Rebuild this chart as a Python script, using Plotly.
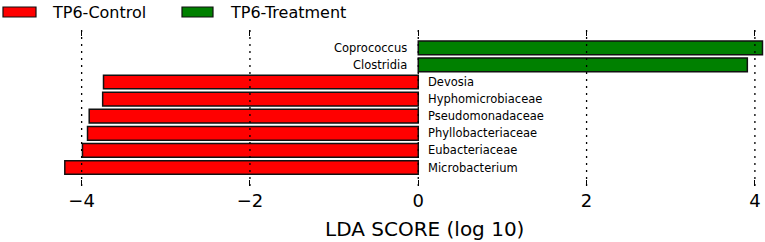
import plotly.graph_objects as go

# ---- data ----
control_names = ["Microbacterium", "Eubacteriaceae", "Phyllobacteriaceae",
                 "Pseudomonadaceae", "Hyphomicrobiaceae", "Devosia"]
control_lda = [-4.20, -3.99, -3.93, -3.91, -3.75, -3.74]
treatment_names = ["Clostridia", "Coprococcus"]
treatment_lda = [3.91, 4.09]
category_order = control_names + treatment_names
tick_values = [-4, -2, 0, 2, 4]
legend_names = ["TP6-Control", "TP6-Treatment"]
colors = ["#FF0000", "#008000"]

W, H = 765, 242
ML, MR, MT, MB = 0, 0, 30, 56
PW, PH = W - ML - MR, H - MT - MB

def px(x):
    return (x - ML) / PW

def py(y):
    return (H - MB - y) / PH

fig = go.Figure()
fig.add_trace(go.Bar(y=control_names, x=control_lda, orientation="h",
                     name=legend_names[0], width=0.8,
                     marker=dict(color=colors[0], line=dict(color="#111", width=1.5)),
                     showlegend=False))
fig.add_trace(go.Bar(y=treatment_names, x=treatment_lda, orientation="h",
                     name=legend_names[1], width=0.8,
                     marker=dict(color=colors[1], line=dict(color="#111", width=1.5)),
                     showlegend=False))
# invisible trace for the top tick axis
fig.add_trace(go.Scatter(x=[tick_values[0], tick_values[-1]], y=[None, None],
                         xaxis="x2", yaxis="y", showlegend=False, hoverinfo="skip"))

xr = [-4.97, 4.12]
font = "DejaVu Sans, sans-serif"

# bar labels
for n, v in zip(control_names, control_lda):
    fig.add_annotation(x=0, y=n, text=n, showarrow=False, xanchor="left",
                       xshift=8, font=dict(size=11.5, color="black", family=font))
for n, v in zip(treatment_names, treatment_lda):
    fig.add_annotation(x=0, y=n, text=n, showarrow=False, xanchor="right",
                       xshift=-9, font=dict(size=11.5, color="black", family=font))

# dotted grid lines above bars
for t in tick_values:
    fig.add_shape(type="line", x0=t, x1=t, y0=0, y1=1, xref="x", yref="paper",
                  line=dict(color="black", width=1.3, dash="2px,5px"), layer="above")

# legend built by hand (wide rectangles)
leg_rects = [(3, 36), (182, 213)]
leg_text_x = [50, 228]
for (x0, x1), c, tx, name in zip(leg_rects, colors, leg_text_x, legend_names):
    fig.add_shape(type="rect", xref="paper", yref="paper",
                  x0=px(x0), x1=px(x1), y0=py(17), y1=py(7),
                  fillcolor=c, line=dict(color="#111", width=1.2))
    fig.add_annotation(xref="paper", yref="paper", x=px(tx), y=py(12.5), text=name,
                       showarrow=False, xanchor="left", yanchor="middle",
                       font=dict(size=16, color="black", family=font))

# axis title
fig.add_annotation(xref="paper", yref="paper", x=px(424), y=py(229),
                   text="LDA SCORE (log 10)", showarrow=False,
                   xanchor="center", yanchor="middle",
                   font=dict(size=20, color="black", family=font))

fig.update_layout(
    width=W, height=H, margin=dict(l=ML, r=MR, t=MT, b=MB),
    plot_bgcolor="white", paper_bgcolor="white", barmode="overlay",
    showlegend=False,
    xaxis=dict(range=xr, tickvals=tick_values, showgrid=False, zeroline=False,
               showline=False, ticks="inside", ticklen=6, tickwidth=1.2,
               tickcolor="black", ticklabelstandoff=2,
               tickfont=dict(size=18, color="black", family=font)),
    xaxis2=dict(range=xr, overlaying="x", side="top", tickvals=tick_values,
                showticklabels=False, showgrid=False, zeroline=False,
                showline=False, ticks="inside", ticklen=6, tickwidth=1.2,
                tickcolor="black"),
    yaxis=dict(categoryorder="array", categoryarray=category_order,
               range=[-1.08, 8.04], showticklabels=False, showgrid=False,
               zeroline=False, showline=False, ticks=""),
)

fig.write_html("out.html", config={"displayModeBar": False},
               post_script="document.body.style.margin='0';document.body.style.overflow='hidden';")
